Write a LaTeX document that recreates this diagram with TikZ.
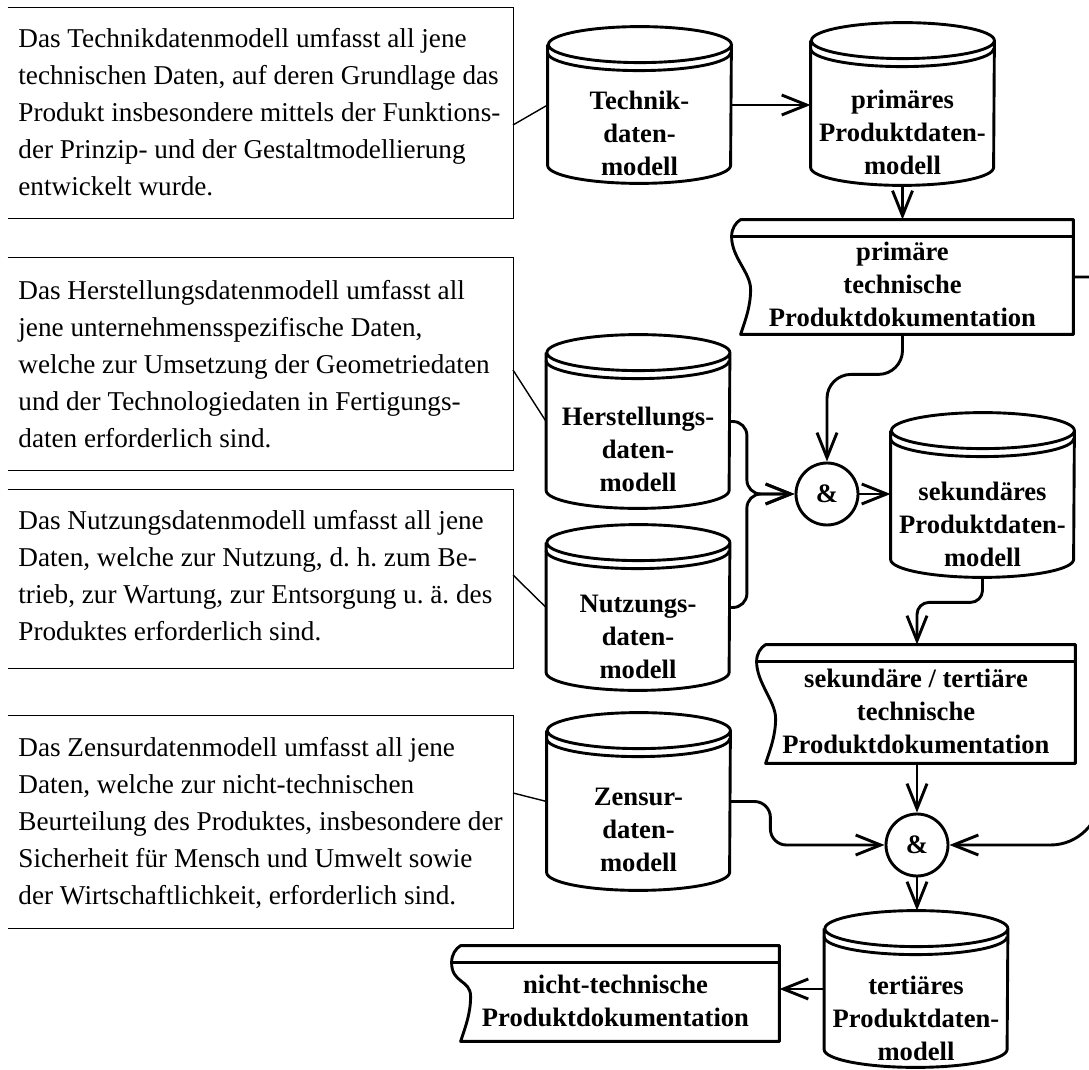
\documentclass[tikz,border=0pt]{standalone}
\usepackage{fontspec}
\setmainfont{Liberation Serif}
\usetikzlibrary{calc,arrows.meta}

% multi-line label, lowered inside its shape
\newcommand\lbl[2]{\raisebox{#1}[0pt][0pt]{\begin{tabular}{@{}c@{}}#2\end{tabular}}}

% data model drum: top ellipse with a second rim line, open bottom arc
\newcommand\cylout[1]{%
  \draw[outline] ($(#1.north west)+(0,18)$) -- ($(#1.south west)+(0,-18)$)
    arc[start angle=180,end angle=360,x radius=45.75pt,y radius=9pt]
    -- ($(#1.north east)+(0,18)$)
    arc[start angle=0,end angle=360,x radius=45.75pt,y radius=9pt];
  \draw[outline] ($(#1.north west)+(0,26)$)
    arc[start angle=180,end angle=360,x radius=45.75pt,y radius=9pt];}

% documentation sheet: wavy left edge and a top band
\newcommand\docout[1]{%
  \draw[outline] ($(#1.north west)+(9,0)$) -- (#1.north east) -- (#1.south east)
    -- ($(#1.south west)+(9,0)$)
    .. controls ($(#1.south west)+(14,-15)$) and ($(#1.south west)+(19,-28)$) .. ($(#1.south west)+(19,-45)$)
    .. controls ($(#1.south west)+(19,-62)$) and ($(#1.north west)+(0,38)$) .. ($(#1.north west)+(0,17)$)
    .. controls ($(#1.north west)+(0,9)$) and ($(#1.north west)+(4,3)$) .. cycle;
  \draw[outline] ($(#1.north west)+(0,17)$) -- ($(#1.north east)+(0,17)$);}

\begin{document}
\begin{tikzpicture}[x=0.5pt, y=-0.5pt,
  outline/.style={line width=1.45pt, line join=round},
  conn/.style={line width=1.45pt, -{Straight Barb[length=12.5pt,width=10pt]}},
  frame/.style={line width=0.8pt},
  lead/.style={line width=0.7pt},
  cyl/.style={rectangle, inner sep=0pt, minimum width=91.5pt,
    font=\fontsize{13.3pt}{16.5pt}\selectfont\bfseries},
  doc/.style={rectangle, inner sep=0pt,
    font=\fontsize{13.3pt}{16.3pt}\selectfont\bfseries},
  andnode/.style={circle, draw, line width=1.45pt, minimum size=31pt, inner sep=0pt,
    font=\fontsize{13.3pt}{16pt}\selectfont\bfseries},
  note/.style={rectangle, inner sep=0pt, minimum width=252.5pt},
  notetext/.style={inner sep=0pt, align=left, anchor=west,
    font=\fontsize{13.6pt}{18.5pt}\selectfont\frenchspacing}]

\useasboundingbox (0,0) rectangle (1089,1070);
\fill[white] (0,0) rectangle (1089,1070);
\clip (0,0) rectangle (1089,1070);

% explanatory notes
\node[note, minimum height=105pt] (n1) at (260.5,113) {};
\node[note, minimum height=106pt] (n2) at (260.5,364) {};
\node[note, minimum height=89pt]  (n3) at (260.5,579) {};
\node[note, minimum height=106pt] (n4) at (260.5,822) {};
\foreach \n in {n1,n2,n3,n4}
  {\draw[frame] (\n.north west) -- (\n.north east) -- (\n.south east) -- (\n.south west);}

\node[notetext] (t1) at (18,112) {Das Technikdatenmodell umfasst all jene\\technischen Daten, auf deren Grundlage das\\Produkt insbesondere mittels der Funktions-\\der Prinzip- und der Gestaltmodellierung\\entwickelt wurde.};
\node[notetext] (t2) at (18,364) {Das Herstellungsdatenmodell umfasst all\\jene unternehmensspezifische Daten,\\welche zur Umsetzung der Geometriedaten\\und der Technologiedaten in Fertigungs-\\daten erforderlich sind.};
\node[notetext] (t3) at (18,576) {Das Nutzungsdatenmodell umfasst all jene\\Daten, welche zur Nutzung, d. h. zum Be-\\trieb, zur Wartung, zur Entsorgung u. ä. des\\Produktes erforderlich sind.};
\node[notetext] (t4) at (18,823) {Das Zensurdatenmodell umfasst all jene\\Daten, welche zur nicht-technischen\\Beurteilung des Produktes, insbesondere der\\Sicherheit für Mensch und Umwelt sowie\\der Wirtschaftlichkeit, erforderlich sind.};

% data models
\node[cyl, minimum height=78pt]   (tech)  at (639.5,105)  {\lbl{-19pt}{Technik-\\daten-\\modell}};
\node[cyl, minimum height=81pt]   (prim)  at (902.5,104)  {\lbl{-19.3pt}{primäres\\Produktdaten-\\modell}};
\node[cyl, minimum height=86.5pt] (herst) at (638,421.5)  {\lbl{-19pt}{Herstellungs-\\daten-\\modell}};
\node[cyl, minimum height=82.5pt] (nutz)  at (638,607.5)  {\lbl{-19.5pt}{Nutzungs-\\daten-\\modell}};
\node[cyl, minimum height=88.5pt] (zens)  at (638.5,801.5){\lbl{-19pt}{Zensur-\\daten-\\modell}};
\node[cyl, minimum height=82pt]   (sek)   at (982.5,495)  {\lbl{-19.3pt}{sekundäres\\Produktdaten-\\modell}};
\node[cyl, minimum height=78pt]   (tert)  at (916,989)    {\lbl{-19.6pt}{tertiäres\\Produktdaten-\\modell}};
\foreach \c in {tech,prim,herst,nutz,zens,sek,tert} {\cylout{\c}}

% documentation
\node[doc, minimum width=170.5pt, minimum height=57pt]   (pdoc) at (902.5,277)  {\lbl{-8.6pt}{primäre\\technische\\Produktdokumentation}};
\node[doc, minimum width=159pt,   minimum height=59pt]   (sdoc) at (916,704)    {\lbl{-8.6pt}{sekundäre / tertiäre\\technische\\Produktdokumentation}};
\node[doc, minimum width=163.5pt, minimum height=47.5pt] (ndoc) at (615.5,993.5){\lbl{-8.6pt}{nicht-technische\\Produktdokumentation}};
\foreach \d in {pdoc,sdoc,ndoc} {\docout{\d}}

% combinations
\node[andnode] (and1) at (827,494) {\&};
\node[andnode] (and2) at (917,845) {\&};

% note leaders
\coordinate (l1) at (513,125);
\coordinate (l2) at (513,370);
\coordinate (l3) at (513,575);
\coordinate (l4) at (513,793);
\draw[lead] (l1) -- (tech.west);
\draw[lead] (l2) -- (herst.west);
\draw[lead] (l3) -- (nutz.west);
\draw[lead] (l4) -- (zens.west);

% flow
\draw[conn] (tech.east) -- (tech.east -| prim.west);
\draw[conn] (prim.south) -- (pdoc.north);
\draw[conn, rounded corners=12pt] (pdoc.south) -- ++(0,40) -| (and1.north);
\draw[conn, rounded corners=7pt] (herst.east) -- ++(17,0) |- (and1.west);
\draw[conn, rounded corners=7pt] (nutz.east) -- ++(17,0) |- (and1.west);
\draw[conn] (and1.east) -- (and1.east -| sek.west);
\draw[conn, rounded corners=6pt] (sek.south) -- ++(0,25) -| (and2 |- sdoc.north);
\draw[conn] (and2 |- sdoc.south) -- (and2.north);
\draw[conn, rounded corners=8pt] (zens.east) -- ++(40,0) |- (and2.west);
\draw[conn] (pdoc.east) -- ++(27,0) -- ++(0,300) [rounded corners=25pt] |- (and2.east);
\draw[conn] (and2.south) -- (and2 |- tert.north);
\draw[conn] (tert.west) -- (tert.west -| ndoc.east);
\end{tikzpicture}
\end{document}
